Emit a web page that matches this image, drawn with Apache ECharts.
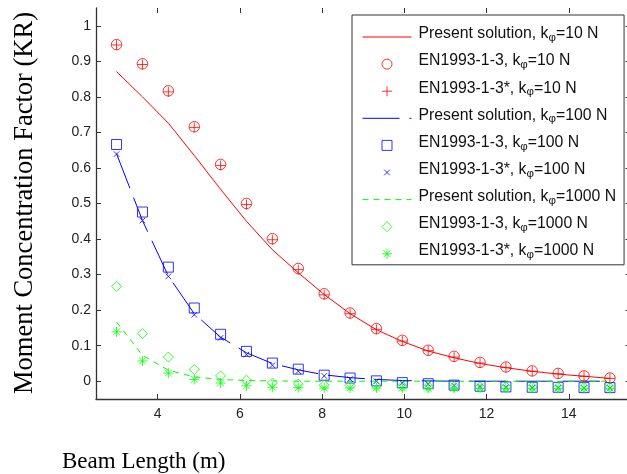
<!DOCTYPE html>
<html>
<head>
<meta charset="utf-8">
<script src="https://cdn.jsdelivr.net/npm/echarts@6/dist/echarts.min.js"></script>
<style>
  html, body { margin: 0; padding: 0; background: #fff; }
  #chart { width: 627px; height: 474px; }
</style>
</head>
<body>
<div id="chart"></div>
<script>
// Beam lengths (m) at which the concentration factor was evaluated
const beamLength = [3.00, 3.63, 4.26, 4.89, 5.53, 6.16, 6.79, 7.42, 8.05, 8.68,
                    9.32, 9.95, 10.58, 11.21, 11.84, 12.47, 13.11, 13.74, 14.37, 15.00];

// k_phi = 10 N
const present10 = [0.871, 0.800, 0.726, 0.635, 0.540, 0.450, 0.370, 0.305, 0.244, 0.190,
                   0.145, 0.112, 0.085, 0.066, 0.050, 0.038, 0.028, 0.020, 0.014, 0.008];
const en10      = [0.947, 0.893, 0.817, 0.716, 0.610, 0.500, 0.401, 0.317, 0.246, 0.192,
                   0.148, 0.115, 0.087, 0.070, 0.053, 0.040, 0.029, 0.022, 0.015, 0.009];
const en10star  = [0.946, 0.891, 0.814, 0.714, 0.607, 0.497, 0.398, 0.314, 0.243, 0.190,
                   0.146, 0.113, 0.086, 0.068, 0.051, 0.039, 0.028, 0.021, 0.014, 0.008];

// k_phi = 100 N
const present100 = [0.640, 0.452, 0.296, 0.190, 0.124, 0.080, 0.050, 0.032, 0.018, 0.010,
                    0.005, 0.002, 0.001, 0.000, 0.000, 0.000, 0.000, 0.000, 0.000, 0.000];
const en100      = [0.666, 0.476, 0.321, 0.206, 0.132, 0.084, 0.051, 0.034, 0.017, 0.009,
                    0.001, -0.004, -0.007, -0.011, -0.014, -0.016, -0.017, -0.017, -0.018, -0.018];
const en100star  = [0.639, 0.452, 0.295, 0.187, 0.122, 0.075, 0.045, 0.028, 0.015, 0.006,
                    0.000, -0.005, -0.008, -0.012, -0.015, -0.017, -0.018, -0.018, -0.019, -0.019];

// k_phi = 1000 N
const present1000 = [0.167, 0.073, 0.031, 0.012, 0.005, 0.002, 0.001, 0.000, 0.000, 0.000,
                     0.000, 0.000, 0.000, 0.000, 0.000, 0.000, 0.000, 0.000, 0.000, 0.000];
const en1000      = [0.267, 0.134, 0.068, 0.033, 0.015, 0.003, -0.005, -0.008, -0.011, -0.012,
                     -0.013, -0.014, -0.015, -0.015, -0.016, -0.016, -0.016, -0.017, -0.017, -0.017];
const en1000star  = [0.139, 0.057, 0.023, 0.005, -0.005, -0.013, -0.017, -0.018, -0.019, -0.019,
                     -0.019, -0.019, -0.020, -0.020, -0.020, -0.020, -0.020, -0.020, -0.020, -0.020];

const xTicks = [4, 6, 8, 10, 12, 14];
const yTicks = [0, 0.1, 0.2, 0.3, 0.4, 0.5, 0.6, 0.7, 0.8, 0.9, 1];

const RED = '#ff0000', BLUE = '#0000ff', GREEN = '#00ff00';
const AXIS = '#333333';

// stroke-only marker outlines
const PLUS    = 'path://M0,5L10,5M5,0L5,10';
const CROSS   = 'path://M0,0L10,10M10,0L0,10';
const STAR    = 'path://M0,5L10,5M5,0L5,10M1.6,1.6L8.4,8.4M8.4,1.6L1.6,8.4';
const SQUARE  = 'path://M0,0L10,0L10,10L0,10Z';
const DIAMOND = 'path://M5,0L10,5L5,10L0,5Z';
// same cross padded with empty moves so the legend draws it smaller
const CROSS_SMALL = 'path://M-4,-4M14,14M0,0L10,10M10,0L0,10';

const pts = ys => beamLength.map((x, i) => [x, ys[i]]);

function lineSeries(name, ys, color, type) {
  return {
    name, type: 'line', data: pts(ys), symbol: 'none', smooth: false,
    lineStyle: { color, width: 1, type }, itemStyle: { color }, z: 2
  };
}
function markSeries(name, ys, color, symbol, size) {
  return {
    name, type: 'scatter', data: pts(ys), symbol, symbolSize: size,
    itemStyle: { color: 'transparent', borderColor: color, borderWidth: 1 }, z: 3
  };
}

const names = [
  'Present solution, kφ=10 N', 'EN1993-1-3, kφ=10 N', 'EN1993-1-3*, kφ=10 N',
  'Present solution, kφ=100 N', 'EN1993-1-3, kφ=100 N', 'EN1993-1-3*, kφ=100 N',
  'Present solution, kφ=1000 N', 'EN1993-1-3, kφ=1000 N', 'EN1993-1-3*, kφ=1000 N'
];

const series = [
  lineSeries(names[0], present10, RED, 'solid'),
  markSeries(names[1], en10, RED, 'circle', 10.5),
  markSeries(names[2], en10star, RED, PLUS, 10),
  lineSeries(names[3], present100, BLUE, [37, 10]),
  markSeries(names[4], en100, BLUE, SQUARE, 10),
  markSeries(names[5], en100star, BLUE, CROSS, 5.5),
  lineSeries(names[6], present1000, GREEN, [6, 5]),
  markSeries(names[7], en1000, GREEN, DIAMOND, 10),
  markSeries(names[8], en1000star, GREEN, STAR, 10)
];

const legendIcons = [null, 'circle', PLUS, null, SQUARE, CROSS_SMALL, null, DIAMOND, STAR];

// legend entries: plain line for the solutions, marker for the code values
const legendData = names.map((n, i) => legendIcons[i]
  ? { name: n, icon: legendIcons[i] }
  : { name: n, itemStyle: { color: 'transparent', borderColor: 'transparent', opacity: 0 } });

const tickFont = { fontFamily: 'Liberation Sans', fontSize: 14, color: '#222' };

const axisCommon = (ticks, showLine, showLabel, margin) => ({
  type: 'value',
  axisLine: { show: showLine, onZero: false, lineStyle: { color: AXIS, width: 1.3 } },
  axisTick: { show: true, inside: true, length: 5, customValues: ticks,
              lineStyle: { color: AXIS, width: 1 } },
  axisLabel: Object.assign({ show: showLabel, customValues: ticks, margin }, tickFont),
  splitLine: { show: false }
});

const chart = echarts.init(document.getElementById('chart'), null, { renderer: 'canvas' });
chart.setOption({
  animation: false,
  backgroundColor: '#ffffff',
  grid: { left: 96, top: 8, right: -3.5, bottom: 75, outerBoundsMode: 'none', containLabel: false },
  xAxis: [
    Object.assign(axisCommon(xTicks, true, true, 8), { min: 2.5, max: 15.5, position: 'bottom' }),
    Object.assign(axisCommon(xTicks, false, false, 8), { min: 2.5, max: 15.5, position: 'top' })
  ],
  yAxis: [
    Object.assign(axisCommon(yTicks, true, true, 5), { min: -0.05, max: 1.05, position: 'left' }),
    Object.assign(axisCommon(yTicks, true, false, 5), { min: -0.05, max: 1.05, position: 'right' })
  ],
  legend: {
    orient: 'vertical',
    left: 352, top: 15,
    padding: [9, 8, -2, 10],
    itemWidth: 49, itemHeight: 10, itemGap: 1.1,
    backgroundColor: '#ffffff',
    borderColor: '#333333', borderWidth: 1,
    selectedMode: false,
    itemStyle: { borderWidth: 1 },
    lineStyle: { width: 1 },
    data: legendData,
    formatter: name => name.replace('kφ', 'k{sub|φ}'),
    textStyle: {
      fontFamily: 'Liberation Sans', fontSize: 15.8, color: '#111',
      lineHeight: 20, padding: [0, 0, 6, 2],
      rich: { sub: { fontFamily: 'Liberation Sans', fontSize: 11.5, lineHeight: 2, verticalAlign: 'bottom', color: '#111' } }
    },
    z: 10
  },
  graphic: [
    { type: 'text', x: 25, y: 203, rotation: Math.PI / 2,
      style: { text: 'Moment Concentration Factor (KR)', font: '26.5px "Liberation Serif"',
               fill: '#000', align: 'center', verticalAlign: 'middle' } },
    { type: 'text', x: 62, y: 462,
      style: { text: 'Beam Length (m)', font: '23px "Liberation Serif"',
               fill: '#000', align: 'left', verticalAlign: 'middle' } }
  ],
  series
});
</script>
</body>
</html>
